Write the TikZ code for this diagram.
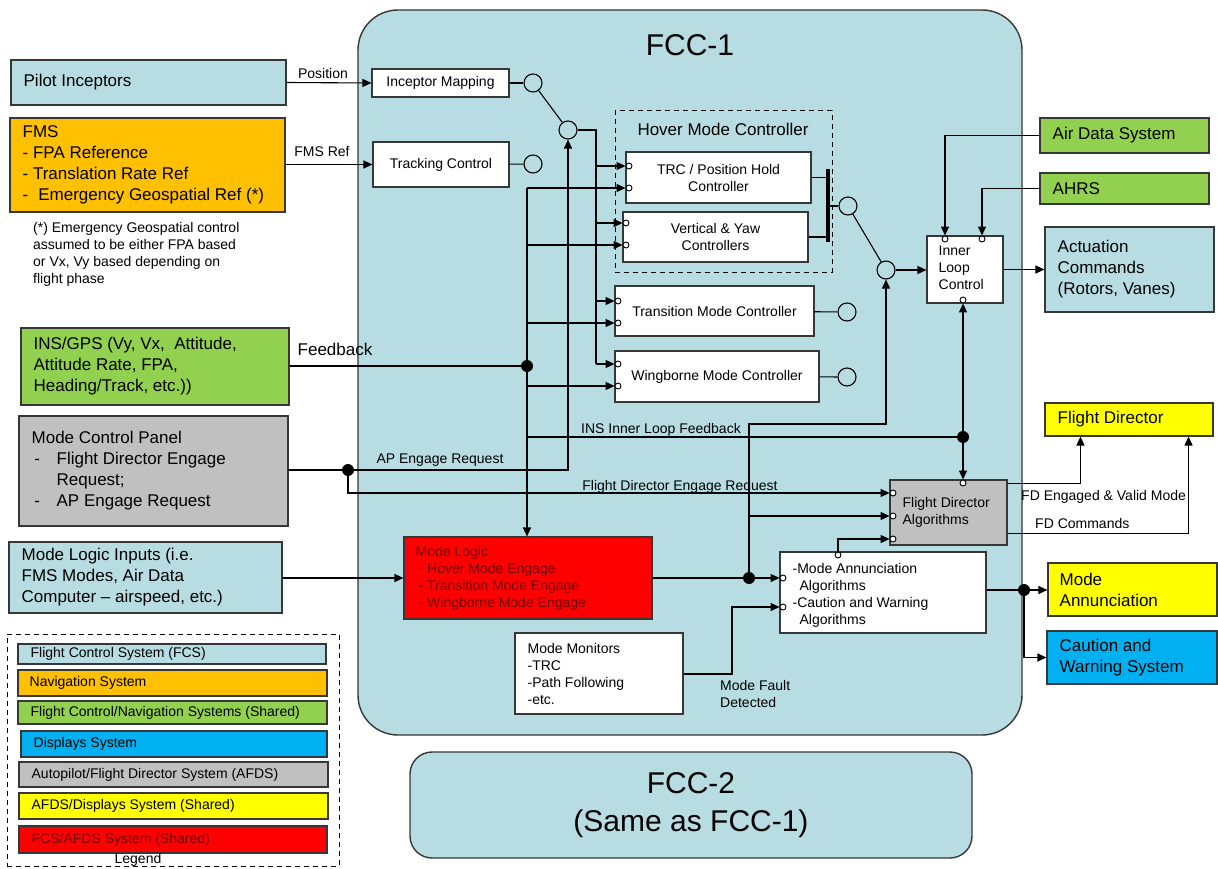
\documentclass[tikz,border=0pt]{standalone}
\usepackage{fontspec}
\setmainfont{Liberation Sans}
\usetikzlibrary{arrows.meta,calc}
\definecolor{fccblue}{RGB}{183,221,226}
\definecolor{navorange}{RGB}{255,192,0}
\definecolor{sharedgreen}{RGB}{146,208,80}
\definecolor{dispblue}{RGB}{0,176,240}
\definecolor{afdsgray}{RGB}{192,192,192}
\definecolor{afdsyellow}{RGB}{255,255,0}
\definecolor{fcsred}{RGB}{255,0,0}
\definecolor{redtext}{RGB}{110,0,0}
\definecolor{edge}{RGB}{55,55,55}

\begin{document}
\begin{tikzpicture}[x=1pt,y=-1pt,
  txtbig/.style={font=\fontsize{17}{21}\selectfont},
  txtsmall/.style={font=\fontsize{14}{17}\selectfont},
  txthuge/.style={font=\fontsize{30}{38}\selectfont},
  spanbox/.style args={#1/#2/#3/#4}{at={({(#1+#3)/2},{(#2+#4)/2})},
     minimum width={(#3-#1)*1pt}, minimum height={(#4-#2)*1pt}},
  box/.style={rectangle, draw=edge, line width=1.1pt, inner sep=0pt},
  wbox/.style={box, fill=white, txtsmall, align=center},
  intext/.style={anchor=west, align=left, inner sep=0pt},
  conn/.style={draw=black, line width=1.1pt},
  arr/.style={conn, -{Triangle[length=9pt,width=8pt]}},
  port/.style={circle, draw=black, fill=white, line width=0.9pt, inner sep=0pt, minimum size=6pt},
  sumpt/.style={circle, draw=black, fill=fccblue, line width=1.1pt, inner sep=0pt, minimum size=18pt},
  junction/.style={circle, fill=black, inner sep=0pt, minimum size=12pt},
  lbl/.style={txtsmall, inner sep=0pt},
  dashframe/.style={rectangle, draw=black, line width=1pt, dash pattern=on 5pt off 4pt, inner sep=0pt},
]
\useasboundingbox (0,0) rectangle (1218,869);
\fill[white] (0,0) rectangle (1218,869);

% ---------- FCC-1 body ----------
\node[box, fill=fccblue, rounded corners=40pt, line width=1.4pt, spanbox=358/10/1022/735] (fcc1) {};
\node[txthuge] (fcc1-t) at (690,45) {FCC-1};

% ---------- FCC-2 ----------
\node[box, fill=fccblue, rounded corners=22pt, line width=1.4pt, spanbox=410/752/972/858,
      txthuge, align=center] (fcc2) {FCC-2\\(Same as FCC-1)};

% ---------- external systems, left ----------
\node[box, fill=fccblue, spanbox=11/60/286/105] (pilot) {};
\node[txtbig, intext] (pilot-t) at ([xshift=13pt]pilot.west) {Pilot Inceptors};

\node[box, fill=navorange, spanbox=10/118/285/212] (fms) {};
\node[txtbig, intext] (fms-t) at ([xshift=13pt]fms.west)
  {FMS\\- FPA Reference\\- Translation Rate Ref\\-\hspace{10pt}Emergency Geospatial Ref (*)};

\node[txtsmall, intext] (note) at (33,254)
  {(*) Emergency Geospatial control\\assumed to be either FPA based\\or Vx, Vy based depending on\\flight phase};

\node[box, fill=sharedgreen, spanbox=21/328/289/405] (ins) {};
\node[txtbig, intext] (ins-t) at ([xshift=13pt]ins.west)
  {INS/GPS (Vy, Vx,\ \ Attitude,\\Attitude Rate, FPA,\\Heading/Track, etc.))};

\node[box, fill=afdsgray, spanbox=19/416/288/526] (mcp) {};
\node[txtbig, intext] (mcp-t) at ([xshift=13pt]mcp.west)
  {Mode Control Panel\\\makebox[25pt][l]{\,-}Flight Director Engage\\\hspace*{25pt}Request;\\\makebox[25pt][l]{\,-}AP Engage Request};

\node[box, fill=fccblue, spanbox=9/542/282/613] (mli) {};
\node[txtbig, intext] (mli-t) at ([xshift=13pt]mli.west)
  {Mode Logic Inputs (i.e.\\FMS Modes, Air Data\\Computer – airspeed, etc.)};

% ---------- external systems, right ----------
\node[box, fill=sharedgreen, spanbox=1040/118/1209/153] (ads) {};
\node[txtbig, intext] (ads-t) at ([xshift=13pt]ads.west) {Air Data System};

\node[box, fill=sharedgreen, spanbox=1040/173/1209/204] (ahrs) {};
\node[txtbig, intext] (ahrs-t) at ([xshift=13pt]ahrs.west) {AHRS};

\node[box, fill=fccblue, spanbox=1045/227/1214/312] (act) {};
\node[txtbig, intext] (act-t) at ([xshift=13pt]act.west) {Actuation\\Commands\\(Rotors, Vanes)};

\node[box, fill=afdsyellow, spanbox=1045/403/1213/436] (fd) {};
\node[txtbig, intext] (fd-t) at ([xshift=13pt]fd.west) {Flight Director};

\node[box, fill=afdsyellow, spanbox=1048/563/1217/616] (ma) {};
\node[txtbig, intext] (ma-t) at ([xshift=12pt]ma.west) {Mode\\Annunciation};

\node[box, fill=dispblue, spanbox=1047/631/1217/684] (cw) {};
\node[txtbig, intext] (cw-t) at ([xshift=13pt]cw.west) {Caution and\\Warning System};

% ---------- FCC-1 internals ----------
\node[wbox, spanbox=372/69/509/97] (im) {Inceptor Mapping};
\node[wbox, spanbox=373/142/509/187] (tc) {Tracking Control};

\node[dashframe, spanbox=615/111/832/272] (hover) {};
\node[txtbig] (hover-t) at (723,129) {Hover Mode Controller};
\node[wbox, spanbox=626/152/811/203] (trc) {TRC / Position Hold\\Controller};
\node[wbox, spanbox=623/212/808/262] (vy) {Vertical \& Yaw\\Controllers};
\node[wbox, spanbox=615/286/814/336] (tmc) {Transition Mode Controller};
\node[wbox, spanbox=615/351/819/402] (wmc) {Wingborne Mode Controller};

\node[box, fill=white, spanbox=927/236/1003/303] (ilc) {};
\node[txtsmall, intext] (ilc-t) at ([xshift=12pt,yshift=2pt]ilc.west) {Inner\\Loop\\Control};

\node[box, fill=afdsgray, spanbox=890/480/1007/545] (fda) {};
\node[txtsmall, intext] (fda-t) at ([xshift=13pt]fda.west) {Flight Director\\Algorithms};

\node[box, fill=fcsred, spanbox=404/537/652/619] (ml) {};
\node[txtsmall, intext, text=redtext] (ml-t) at ([xshift=12pt]ml.west)
  {Mode Logic\\\hspace*{3pt}- Hover Mode Engage\\\hspace*{3pt}- Transition Mode Engage\\\hspace*{3pt}- Wingborne Mode Engage};

\node[box, fill=white, spanbox=780/552/986/633] (mann) {};
\node[txtsmall, intext] (mann-t) at ([xshift=13pt,yshift=-3pt]mann.west)
  {-Mode Annunciation\\\hspace*{7pt}Algorithms\\-Caution and Warning\\\hspace*{7pt}Algorithms};

\node[box, fill=white, spanbox=515/633/683/714] (mmon) {};
\node[txtsmall, intext] (mmon-t) at ([xshift=13pt]mmon.west) {Mode Monitors\\-TRC\\-Path Following\\-etc.};

% summing / switch points
\node[sumpt] (imc)  at (533,83)  {};
\node[sumpt] (tcc)  at (533,164) {};
\node[sumpt] (sum1) at (568,130) {};
\node[sumpt] (hovc) at (848,206) {};
\node[sumpt] (sum2) at (886,270) {};
\node[sumpt] (tmcc) at (847,312) {};
\node[sumpt] (wmcc) at (847,377) {};

% input ports
\node[port] (trc-p1) at (629,166) {};
\node[port] (trc-p2) at (629,188) {};
\node[port] (vy-p1)  at (626,223) {};
\node[port] (vy-p2)  at (626,245) {};
\node[port] (tmc-p1) at (618,301) {};
\node[port] (tmc-p2) at (618,323) {};
\node[port] (wmc-p1) at (618,364) {};
\node[port] (wmc-p2) at (618,386) {};
\node[port] (ilc-pa) at (945,239) {};
\node[port] (ilc-pb) at (982,239) {};
\node[port] (ilc-pc) at (963,300) {};
\node[port] (fda-p1) at (893,493) {};
\node[port] (fda-p2) at (893,516) {};
\node[port] (fda-p3) at (893,539) {};
\node[port] (fda-pt) at (963,483) {};
\node[port] (mann-p1) at (783,578) {};
\node[port] (mann-p2) at (783,607) {};
\node[port] (mann-pt) at (838,555) {};

% junction dots
\node[junction] (jins) at (527,366) {};
\node[junction] (jmcp) at (348,470) {};
\node[junction] (jfb)  at (963,437) {};
\node[junction] (jml)  at (749,578) {};
\node[junction] (jout) at (1024,590) {};

% bus corners
\coordinate (b1) at (596,130);
\coordinate (b2) at (527,188);
\coordinate (k1) at (749,424);
\coordinate (k2) at (732,674);
\coordinate (bartop) at (828,169);
\coordinate (barbot) at (828,242);

% ---------- connectors ----------
\draw[arr] (pilot.east) -- (im.west);
\node[lbl] (pos-l) at (323,73) {Position};
\draw[arr] (fms.east |- tc) -- (tc.west);
\node[lbl] (fmsref-l) at (322,152) {FMS Ref};

\draw[conn] (im) -- (imc);
\draw[conn] (tc) -- (tcc);
\draw[conn] (imc) -- (sum1);

% command bus from the mode switch
\draw[conn] (sum1.east) -- (b1) -- (b1 |- wmc-p1);
\draw[arr] (b1 |- trc-p1) -- (trc-p1.west);
\draw[arr] (b1 |- vy-p1) -- (vy-p1.west);
\draw[arr] (b1 |- tmc-p1) -- (tmc-p1.west);
\draw[arr] (b1 |- wmc-p1) -- (wmc-p1.west);

% INS feedback bus
\draw[conn] (ins.east |- jins) -- (jins);
\node[txtbig, inner sep=0pt] (fb-l) at (335,349) {Feedback};
\draw[arr] (b2) -- (b2 |- ml.north);
\draw[arr] (b2) -- (trc-p2.west);
\draw[arr] (b2 |- vy-p2) -- (vy-p2.west);
\draw[arr] (b2 |- tmc-p2) -- (tmc-p2.west);
\draw[arr] (b2 |- wmc-p2) -- (wmc-p2.west);
\draw[conn] (b2 |- jfb) -- (jfb);
\node[lbl] (insfb-l) at (661,430) {INS Inner Loop Feedback};
\draw[arr] (jfb) -- (ilc-pc.south);
\draw[arr] (jfb) -- (fda-pt.north);

% mode control panel requests
\draw[arr] (mcp.east |- jmcp) -- (jmcp -| sum1) -- (sum1.south);
\node[lbl] (ap-l) at (440,460) {AP Engage Request};
\draw[arr] (jmcp) |- (fda-p1.west);
\node[lbl] (fdreq-l) at (680,487) {Flight Director Engage Request};

% hover mode controller outputs
\draw[line width=4pt] (bartop) -- (barbot);
\draw[conn] (trc.east) -- (trc.east -| bartop);
\draw[conn] (vy.east) -- (vy.east -| bartop);
\draw[conn] (bartop |- hovc) -- (hovc);
\draw[conn] (tmc) -- (tmcc);
\draw[conn] (wmc) -- (wmcc);
\draw[conn] (hovc) -- (sum2);

% inner loop
\draw[arr] (sum2.east) -- (ilc.west |- sum2);
\draw[arr] (ads.west) -| (ilc-pa.north);
\draw[arr] (ahrs.west) -| (ilc-pb.north);
\draw[arr] (ilc.east) -- (act.west |- ilc.east);

% mode logic
\draw[arr] (mli.east |- ml) -- (ml.west);
\draw[conn] (ml.east) -- (jml);
\draw[arr] (jml) -- (mann-p1.west);
\draw[arr] (jml) -- (k1) -| (sum2.south);
\draw[arr] (jml |- fda-p2) -- (fda-p2.west);
\draw[arr] (mann-pt.north) |- (fda-p3.west);
\draw[arr] (mmon.east |- k2) -- (k2) |- (mann-p2.west);
\node[txtsmall, intext] (mfd-l) at (720,694) {Mode Fault\\Detected};

% annunciation outputs
\draw[conn] (mann.east |- jout) -- (jout);
\draw[arr] (jout) -- (ma.west |- jout);
\draw[arr] (jout) |- (cw.west);

% flight director outputs
\draw[arr] ($(fda.north east)+(0,4)$) -| ($(fd.south west)+(36,0)$);
\node[lbl, anchor=west] (fdev-l) at (1021,497) {FD Engaged \& Valid Mode};
\draw[arr] ($(fda.south east)+(0,-12)$) -| ($(fd.south east)+(-25,0)$);
\node[lbl, anchor=west] (fdc-l) at (1035,523) {FD Commands};

% ---------- legend ----------
\node[dashframe, spanbox=7/634/339/866] (legend) {};
\node[box, fill=fccblue, spanbox=18/644/326/664] (lg1) {};
\node[txtsmall, intext] (lg1-t) at ([xshift=13pt]lg1.west) {Flight Control System (FCS)};
\node[box, fill=navorange, spanbox=18/670/327/696] (lg2) {};
\node[txtsmall, intext] (lg2-t) at ([xshift=12pt]lg2.west) {Navigation System};
\node[box, fill=sharedgreen, spanbox=18/701/327/724] (lg3) {};
\node[txtsmall, intext] (lg3-t) at ([xshift=13pt]lg3.west) {Flight Control/Navigation Systems (Shared)};
\node[box, fill=dispblue, spanbox=21/731/327/757] (lg4) {};
\node[txtsmall, intext] (lg4-t) at ([xshift=13pt]lg4.west) {Displays System};
\node[box, fill=afdsgray, spanbox=19/762/328/787] (lg5) {};
\node[txtsmall, intext] (lg5-t) at ([xshift=13pt]lg5.west) {Autopilot/Flight Director System (AFDS)};
\node[box, fill=afdsyellow, spanbox=19/793/328/819] (lg6) {};
\node[txtsmall, intext] (lg6-t) at ([xshift=13pt]lg6.west) {AFDS/Displays System (Shared)};
\node[box, fill=fcsred, spanbox=19/826/327/853] (lg7) {};
\node[txtsmall, intext, text=redtext] (lg7-t) at ([xshift=13pt]lg7.west) {FCS/AFDS System (Shared)};
\node[lbl] (legend-t) at (138,860) {Legend};

\end{tikzpicture}
\end{document}
